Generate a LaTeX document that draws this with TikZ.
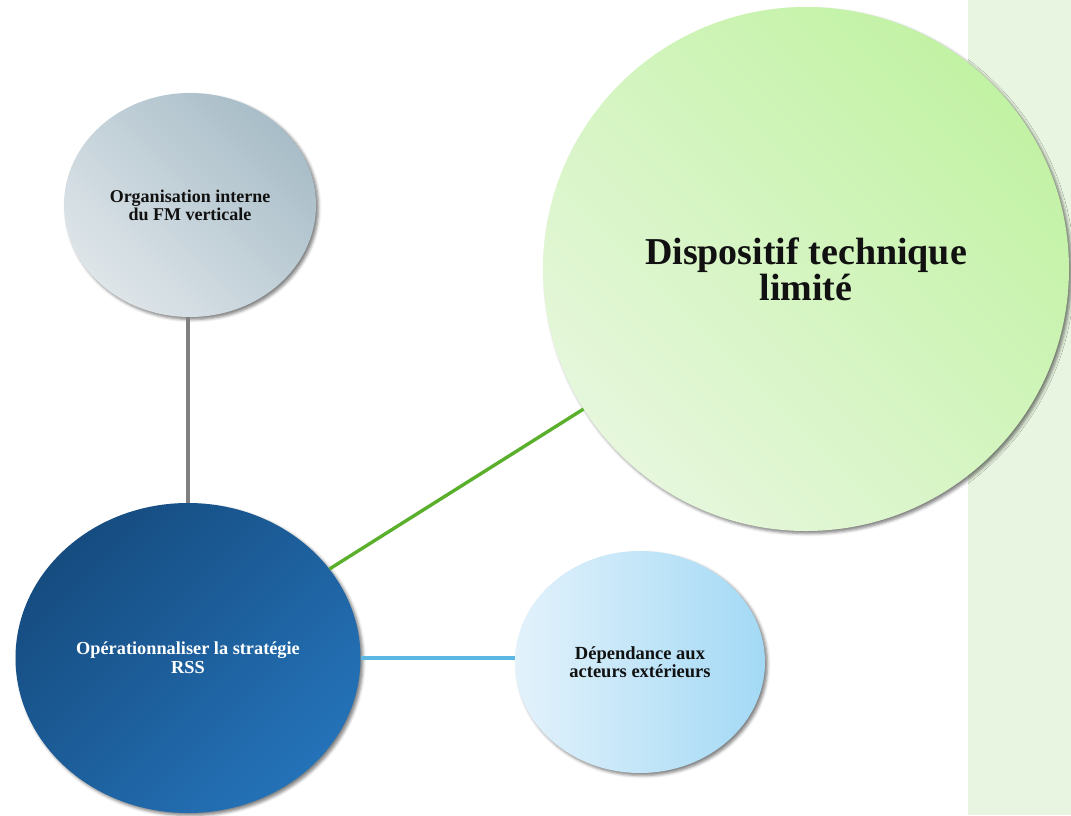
\documentclass[tikz,border=0pt]{standalone}
\usepackage{fontspec}
\setmainfont{Liberation Serif}
\usetikzlibrary{shapes.geometric,shadows.blur}

\definecolor{panelgreen}{HTML}{E8F5E0}
\definecolor{grayA}{HTML}{A8BDC8}
\definecolor{grayB}{HTML}{DEE5E9}
\definecolor{greenA}{HTML}{C2F2A4}
\definecolor{greenB}{HTML}{E6F7DC}
\definecolor{navyA}{HTML}{164C80}
\definecolor{navyB}{HTML}{2472B8}
\definecolor{skyA}{HTML}{E3F2FB}
\definecolor{skyB}{HTML}{A3D9F5}
\definecolor{linkgray}{HTML}{808080}
\definecolor{linkgreen}{HTML}{5AB02C}
\definecolor{linksky}{HTML}{5BB7E2}
\definecolor{textdark}{HTML}{111111}

\tikzset{
  bubble/.style={ellipse, inner sep=0pt, align=center, font=\bfseries,
    blur shadow={shadow xshift=2.5pt, shadow yshift=-2.5pt,
      shadow blur radius=3pt, shadow opacity=50}},
  link/.style={line width=3.4pt}
}

\begin{document}
\begin{tikzpicture}[x=1pt,y=-1pt]
  \useasboundingbox (0,0) rectangle (1071,815);
  % side panel
  \fill[panelgreen] (968,0) rectangle (1071,815);

  % bubbles
  \node[bubble, minimum width=252pt, minimum height=224pt,
        top color=grayA, bottom color=grayB, shading angle=-45,
        text=textdark, font=\bfseries\fontsize{18}{18}\selectfont]
    (org) at (190,205) {Organisation interne\\du FM verticale};

  \node[bubble, minimum width=526pt, minimum height=524pt,
        top color=greenA, bottom color=greenB, shading angle=-45,
        text=textdark, font=\bfseries\fontsize{38}{36}\selectfont]
    (disp) at (806,269) {Dispositif technique\\limité};

  \node[bubble, minimum width=345pt, minimum height=310pt,
        top color=navyA, bottom color=navyB, shading angle=45,
        text=white, font=\bfseries\fontsize{18.3}{19}\selectfont]
    (rss) at (188,658) {Opérationnaliser la stratégie\\RSS};

  \node[bubble, minimum width=250pt, minimum height=222pt,
        left color=skyA, right color=skyB,
        text=textdark, font=\bfseries\fontsize{18.5}{18}\selectfont]
    (dep) at (640,662) {Dépendance aux\\acteurs extérieurs};

  % connectors
  \draw[link, linkgray] (rss.north) -- (rss.north |- org.south);
  \draw[link, linkgreen] (rss) -- (disp);
  \draw[link, linksky] (rss.east) -- (rss.east -| dep.west);
\end{tikzpicture}
\end{document}
